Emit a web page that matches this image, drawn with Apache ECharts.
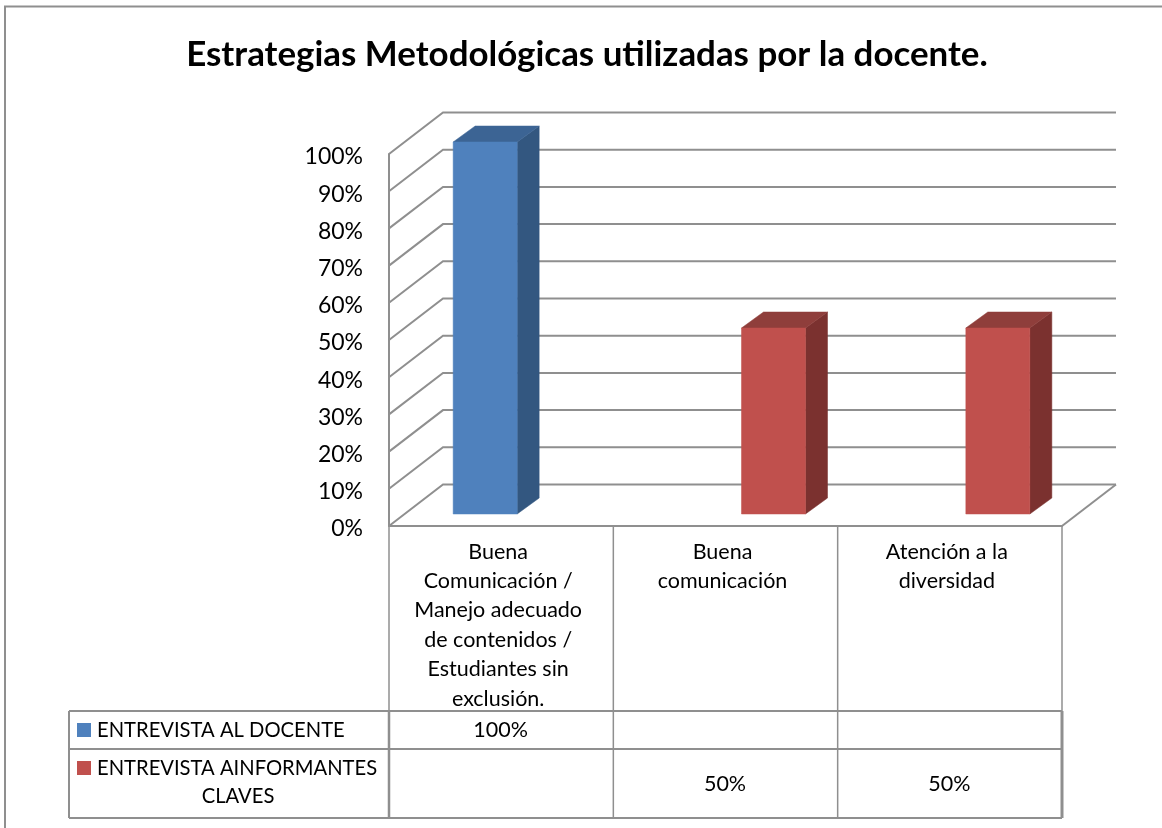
<!DOCTYPE html>
<html>
<head>
<meta charset="utf-8">
<style>html,body{margin:0;padding:0;background:#fff}#c{width:1162px;height:828px}</style>
<script src="https://cdn.jsdelivr.net/npm/echarts@6/dist/echarts.min.js"></script>
</head>
<body>
<div id="c"></div>
<script>
const chartTitle = 'Estrategias Metodológicas utilizadas por la docente.';
const categories = ['Buena\nComunicación /\nManejo adecuado\nde contenidos /\nEstudiantes sin\nexclusión.', 'Buena\ncomunicación', 'Atención a la\ndiversidad'];
const seriesNames = ['ENTREVISTA AL DOCENTE', 'ENTREVISTA AINFORMANTES\nCLAVES'];
const docente = [100, null, null];
const informantes = [null, 50, 50];
const yTicks = [0, 10, 20, 30, 40, 50, 60, 70, 80, 90, 100];

const FONT = 'Lato, Carlito, sans-serif';
const LINE = '#8f8f8f';
const depth = { x: 54, y: 41.5 };
const barDepth = { x: 22, y: 16 };
const barShift = { x: 16, y: 12 };
const barW = 64;
const table = { left: 69, axisY: 526, top: 711, row1: 749, bottom: 818 };
const palette = [
  { front: '#4F81BD', side: '#335780', top: '#3C6494' },
  { front: '#C0504D', side: '#7B312F', top: '#8F3E3B' }
];

function poly(points, fill) {
  return { type: 'polygon', shape: { points }, style: { fill, stroke: fill, lineWidth: 0.5 } };
}
function seg(x1, y1, x2, y2, w) {
  return { type: 'line', shape: { x1, y1, x2, y2 }, style: { stroke: LINE, lineWidth: w || 2, fill: null } };
}
function txt(text, x, y, align, size) {
  return { type: 'text', style: { text, x, y, align: align || 'center', verticalAlign: 'middle', font: (size || 20) + 'px ' + FONT, fill: '#000' } };
}

function renderFrame(params, api) {
  const cs = params.coordSys;
  const p = api.coord([0, api.value(1)]);
  const left = cs.x, right = cs.x + cs.width;
  const kids = [{ type: 'polyline', shape: { points: [[left, p[1]], [left + depth.x, p[1] - depth.y], [right + depth.x, p[1] - depth.y]] }, style: { stroke: LINE, lineWidth: 2, fill: null } }];
  if (api.value(1) === 0) kids.push(seg(right, p[1], right + depth.x, p[1] - depth.y));
  return { type: 'group', children: kids };
}

function makeBar(idx) {
  return function (params, api) {
    const c = palette[idx];
    const catX = api.coord([api.value(0), 0])[0];
    const x = catX + barShift.x - (idx === 0 ? barW : 0);
    const yTop = api.coord([api.value(0), api.value(1)])[1] - barShift.y;
    const yBot = api.coord([api.value(0), 0])[1] - barShift.y;
    const r = x + barW, dx = barDepth.x, dy = barDepth.y;
    return { type: 'group', children: [
      poly([[r, yTop], [r + dx, yTop - dy], [r + dx, yBot - dy], [r, yBot]], c.side),
      poly([[x, yTop], [x + dx, yTop - dy], [r + dx, yTop - dy], [r, yTop]], c.top),
      poly([[x, yTop], [r, yTop], [r, yBot], [x, yBot]], c.front)
    ] };
  };
}

function renderTable(params, api) {
  const cs = params.coordSys;
  const band = cs.width / categories.length;
  const kids = [];
  const rows = [docente, informantes];
  const rowY = [[table.top, table.row1], [table.row1, table.bottom]];
  [table.top, table.row1, table.bottom].forEach(y => kids.push(seg(table.left, y, cs.x + cs.width, y, 2)));
  kids.push(seg(table.left, table.top, table.left, table.bottom, 2));
  categories.forEach((_, i) => { if (i > 0) kids.push(seg(cs.x + band * i, table.axisY, cs.x + band * i, table.bottom, 1.5)); });
  kids.push(seg(cs.x, table.axisY, cs.x, table.top, 1.5));
  kids.push(seg(cs.x, table.top, cs.x, table.bottom, 2.5));
  kids.push(seg(cs.x + cs.width, table.axisY, cs.x + cs.width, table.top, 1.5));
  kids.push(seg(cs.x + cs.width, table.top, cs.x + cs.width, table.bottom, 3));
  kids.push({ type: 'rect', shape: { x: 77, y: 723, width: 14, height: 14 }, style: { fill: palette[0].front } });
  kids.push({ type: 'rect', shape: { x: 77, y: 761, width: 14, height: 14 }, style: { fill: palette[1].front } });
  kids.push(txt(seriesNames[0], 97, 730, 'left', 20.2));
  const n2 = seriesNames[1].split('\n');
  kids.push(txt(n2[0], 97, 768, 'left', 20.2));
  kids.push(txt(n2[1], 238, 796, 'center', 20.2));
  rows.forEach((vals, r) => vals.forEach((v, i) => {
    if (v !== null) kids.push(txt(v + '%', cs.x + band * (i + 0.5) - 0.5, (rowY[r][0] + rowY[r][1]) / 2 + 0.5, 'center', 21.5));
  }));
  return { type: 'group', children: kids };
}

const chart = echarts.init(document.getElementById('c'), null, { renderer: 'canvas' });
chart.setOption({
  animation: false,
  backgroundColor: '#fff',
  title: {
    text: chartTitle, left: 582, top: 32, textAlign: 'center',
    textStyle: { fontFamily: FONT, fontWeight: 'bold', fontSize: 34.9, color: '#000' }
  },
  graphic: [{
    type: 'polyline', silent: true,
    shape: { points: [[5, 830], [5, 6.5], [1164, 6.5]] },
    style: { stroke: '#8f8f8f', lineWidth: 2, fill: null }
  }],
  grid: { left: 389, right: 100, top: 154, bottom: 302, containLabel: false },
  xAxis: {
    type: 'category', data: categories, boundaryGap: true,
    axisLine: { show: true, lineStyle: { color: LINE, width: 2 } },
    axisTick: { show: false },
    axisLabel: { interval: 0, margin: 11, color: '#000', fontFamily: FONT, fontSize: 21.5, lineHeight: 29.4, align: 'center', padding: [0, 6, 0, 0], hideOverlap: false }
  },
  yAxis: {
    type: 'value', min: 0, max: 100, interval: 10,
    axisLine: { show: true, lineStyle: { color: LINE, width: 2 } },
    axisTick: { show: false },
    splitLine: { show: false },
    axisLabel: { formatter: '{value}%', margin: 26, color: '#000', fontFamily: FONT, fontSize: 23, verticalAlign: 'top', lineHeight: 6 }
  },
  series: [
    { type: 'custom', name: 'marco', coordinateSystem: 'cartesian2d', z: 1, silent: true, encode: { x: 0, y: 1 }, data: yTicks.map(v => [0, v]), renderItem: renderFrame },
    { type: 'custom', name: seriesNames[0], coordinateSystem: 'cartesian2d', z: 3, encode: { x: 0, y: 1 }, data: docente.map((v, i) => [i, v]).filter(d => d[1] !== null), renderItem: makeBar(0) },
    { type: 'custom', name: seriesNames[1], coordinateSystem: 'cartesian2d', z: 3, encode: { x: 0, y: 1 }, data: informantes.map((v, i) => [i, v]).filter(d => d[1] !== null), renderItem: makeBar(1) },
    { type: 'custom', name: 'tabla', coordinateSystem: 'cartesian2d', z: 2, silent: true, encode: { x: 0, y: 1 }, data: [[0, 0]], renderItem: renderTable }
  ]
});
</script>
</body>
</html>
